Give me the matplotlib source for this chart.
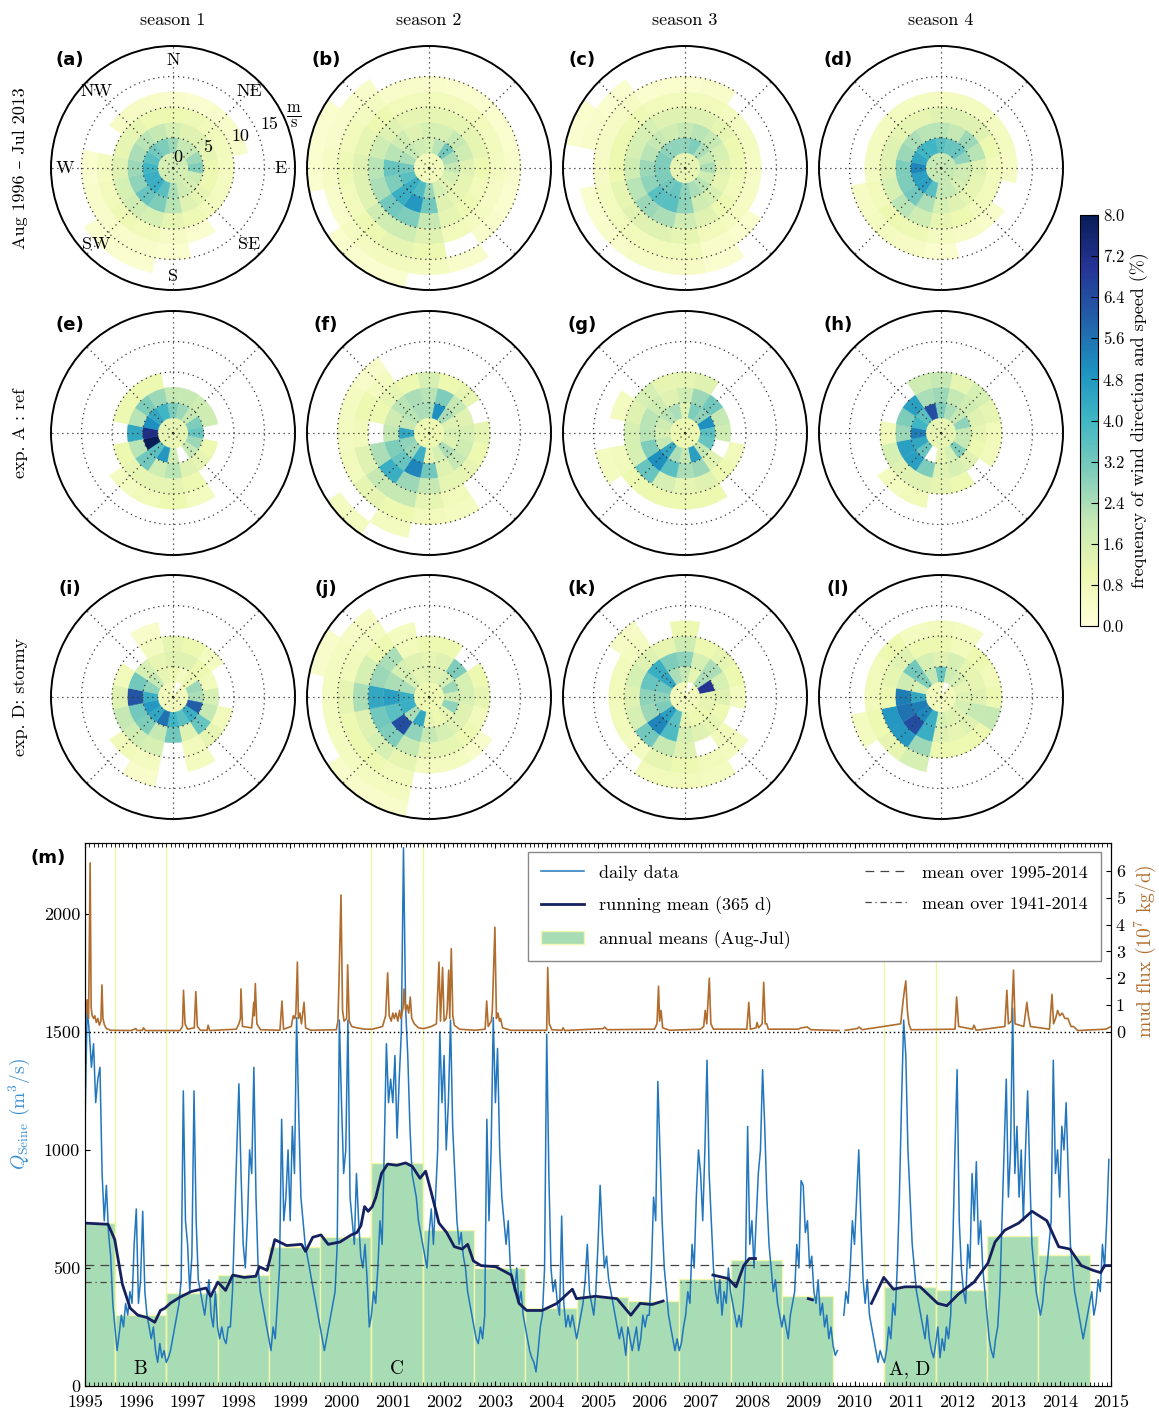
import numpy as np
import matplotlib
matplotlib.use('Agg')
import matplotlib.pyplot as plt
from matplotlib.lines import Line2D
from matplotlib.patches import Patch
from matplotlib.colors import Normalize
from matplotlib.cm import ScalarMappable
from matplotlib.ticker import MultipleLocator

plt.rcParams['font.family'] = ['cmr10', 'DejaVu Serif']
plt.rcParams['mathtext.fontset'] = 'cm'
plt.rcParams['axes.unicode_minus'] = False
plt.rcParams['font.size'] = 13

# ---------------- wind roses: frequency (%) per direction (N, NNE, ... NNW) and speed bin (2.5 m/s) ----
SPEED_EDGES = [0, 2.5, 5, 7.5, 10, 12.5, 15, 17.5, 20]
DIRECTIONS = [0, 22.5, 45, 67.5, 90, 112.5, 135, 157.5, 180, 202.5, 225, 247.5, 270, 292.5, 315, 337.5]

ROSE_A = [[1.8, 2.6, 1.6, 1.0, 0.4, 0, 0, 0], [1.8, 2.0, 1.4, 0.9, 0.3, 0, 0, 0],
          [1.8, 2.0, 1.4, 0.8, 0.4, 0, 0, 0], [1.8, 2.6, 1.2, 0.7, 0.4, 0, 0, 0],
          [1.6, 3.0, 1.0, 0.6, 0, 0, 0, 0], [1.6, 1.8, 1.0, 0.6, 0, 0, 0, 0],
          [1.6, 1.6, 1.2, 0.7, 0, 0, 0, 0], [1.8, 1.8, 1.4, 0.9, 0.3, 0, 0, 0],
          [1.8, 2.4, 2.2, 1.2, 0.5, 0.3, 0, 0], [1.8, 3.6, 3.0, 1.6, 0.8, 0.4, 0.3, 0],
          [1.8, 4.2, 3.4, 1.8, 0.9, 0.4, 0.3, 0], [1.8, 4.2, 2.8, 1.6, 0.8, 0.4, 0, 0],
          [1.6, 4.0, 2.6, 1.4, 0.6, 0.3, 0, 0], [1.6, 3.6, 2.4, 1.2, 0, 0, 0, 0],
          [1.6, 3.2, 2.2, 1.2, 0.5, 0, 0, 0], [1.6, 3.0, 2.0, 1.0, 0.5, 0, 0, 0]]
ROSE_B = [[0.8, 1.6, 1.6, 1.2, 0.8, 0.4, 0, 0], [0.8, 2.2, 1.6, 1.2, 0.8, 0.3, 0, 0],
          [0.8, 3.2, 2.0, 1.2, 0.8, 0.3, 0, 0], [0.8, 2.4, 1.8, 1.2, 0.7, 0.3, 0, 0],
          [0.8, 2.0, 1.4, 1.0, 0.6, 0.4, 0, 0], [0.8, 1.6, 1.2, 0.8, 0.5, 0.3, 0, 0],
          [0.8, 1.4, 1.2, 1.0, 0.6, 0.4, 0, 0], [0.8, 1.6, 1.4, 1.2, 0.8, 0, 0.4, 0],
          [0.8, 2.6, 3.2, 2.0, 1.4, 1.0, 0.6, 0], [0.8, 3.8, 4.8, 3.0, 1.8, 1.2, 0.7, 0.3],
          [0.8, 4.2, 4.2, 3.2, 1.8, 1.0, 0.6, 0.3], [0.8, 3.6, 3.0, 2.4, 1.4, 0.8, 0.4, 0],
          [0.8, 3.2, 3.4, 2.2, 1.4, 0.9, 0.5, 0.3], [0.8, 2.4, 2.2, 1.8, 1.2, 0.8, 0.4, 0.3],
          [0.8, 2.0, 1.8, 1.4, 1.0, 0.6, 0.4, 0], [0.8, 1.8, 1.4, 1.2, 0.8, 0.4, 0, 0]]
ROSE_C = [[1.2, 2.8, 2.0, 1.4, 0.8, 0.3, 0, 0], [1.2, 3.0, 2.2, 1.4, 0.8, 0.4, 0, 0],
          [1.2, 2.4, 2.0, 1.2, 0.6, 0, 0, 0], [1.2, 2.0, 1.6, 1.0, 0.6, 0, 0, 0],
          [1.2, 2.4, 1.4, 0.9, 0.5, 0, 0, 0], [1.2, 1.8, 1.2, 0.8, 0.5, 0, 0, 0],
          [1.2, 2.2, 1.6, 1.0, 0.6, 0.3, 0, 0], [1.2, 2.4, 1.8, 1.4, 0.8, 0.4, 0.3, 0],
          [1.2, 2.8, 2.8, 1.8, 1.2, 0.8, 0.5, 0], [1.2, 3.4, 3.6, 2.4, 1.4, 0.8, 0.5, 0],
          [1.2, 3.2, 3.6, 2.6, 1.4, 0.8, 0.4, 0], [1.2, 3.0, 2.8, 2.2, 1.2, 0.6, 0.3, 0],
          [1.2, 3.0, 2.6, 1.8, 1.0, 0.5, 0, 0], [1.2, 3.0, 2.2, 1.6, 1.0, 0.5, 0.4, 0.3],
          [1.2, 2.8, 2.0, 1.6, 0.9, 0.5, 0.3, 0], [1.2, 2.8, 1.8, 1.4, 0.8, 0.3, 0, 0]]
ROSE_D = [[2.0, 3.6, 2.2, 1.4, 0.6, 0, 0, 0], [2.0, 3.4, 2.0, 1.4, 0.6, 0, 0, 0],
          [2.0, 3.4, 2.6, 1.4, 0.6, 0, 0, 0], [2.0, 2.8, 2.2, 1.0, 0.6, 0, 0, 0],
          [2.0, 1.8, 1.4, 0.8, 0.5, 0, 0, 0], [2.0, 1.8, 1.2, 0.8, 0, 0, 0, 0],
          [2.0, 1.6, 1.2, 0.8, 0.4, 0, 0, 0], [2.0, 2.0, 1.4, 1.0, 0.5, 0, 0, 0],
          [2.0, 2.0, 1.6, 1.2, 0.6, 0.3, 0, 0], [2.0, 3.6, 2.4, 1.8, 0.9, 0.5, 0, 0],
          [2.0, 4.6, 3.2, 2.2, 1.0, 0.6, 0, 0], [2.0, 4.6, 3.0, 1.6, 0.8, 0.5, 0, 0],
          [2.0, 5.2, 3.0, 1.4, 0.6, 0, 0, 0], [2.0, 4.4, 2.6, 1.4, 0.6, 0, 0, 0],
          [2.0, 4.0, 2.4, 1.2, 0.6, 0, 0, 0], [2.0, 4.0, 2.2, 1.2, 0.6, 0, 0, 0]]
ROSE_E = [[1.2, 3.0, 2.0, 0, 0, 0, 0, 0], [1.2, 2.6, 2.0, 0, 0, 0, 0, 0],
          [1.2, 2.0, 1.8, 0, 0, 0, 0, 0], [1.2, 3.0, 1.8, 0, 0, 0, 0, 0],
          [1.2, 3.4, 0, 0, 0, 0, 0, 0], [1.2, 2.6, 1.0, 0, 0, 0, 0, 0],
          [1.2, 2.0, 1.2, 0, 0, 0, 0, 0], [1.0, 0, 1.4, 1.0, 0.6, 0, 0, 0],
          [1.2, 1.8, 2.2, 1.2, 1.0, 0, 0, 0], [1.2, 4.8, 1.8, 1.2, 0.8, 0, 0, 0],
          [1.2, 3.6, 3.2, 1.2, 0.6, 0, 0, 0], [1.2, 8.0, 2.2, 1.0, 0, 0, 0, 0],
          [1.2, 7.2, 4.4, 0, 0, 0, 0, 0], [1.2, 5.0, 2.2, 1.0, 0, 0, 0, 0],
          [1.2, 4.4, 3.0, 1.0, 0, 0, 0, 0], [1.2, 4.0, 2.6, 1.0, 0, 0, 0, 0]]
ROSE_F = [[1.0, 2.4, 2.2, 1.6, 0, 0, 0, 0], [1.0, 5.0, 3.0, 1.0, 0, 0, 0, 0],
          [1.0, 2.4, 2.0, 1.2, 0, 0, 0, 0], [1.0, 1.4, 1.4, 0, 0, 0, 0, 0],
          [1.0, 1.6, 1.6, 1.2, 0, 0, 0, 0], [1.0, 1.4, 1.8, 1.0, 0, 0, 0, 0],
          [1.0, 2.4, 2.0, 1.2, 0, 0, 0, 0], [1.0, 1.6, 1.4, 1.2, 0.8, 0.6, 0, 0],
          [1.0, 1.2, 3.2, 2.0, 1.2, 0.8, 0, 0], [1.0, 4.2, 5.2, 2.6, 2.0, 1.0, 0.6, 0],
          [1.0, 2.6, 3.4, 4.2, 2.0, 1.2, 0, 0.6], [1.0, 2.8, 3.0, 2.4, 1.4, 0.8, 0, 0],
          [1.0, 4.4, 2.0, 0, 0.8, 0.6, 0, 0], [1.0, 2.0, 1.8, 1.0, 1.0, 0.6, 0, 0],
          [1.0, 2.2, 2.2, 1.2, 0.6, 0.4, 0, 0], [1.0, 2.4, 2.4, 1.0, 0, 0, 0, 0]]
ROSE_G = [[1.0, 1.4, 1.8, 1.2, 0, 0, 0, 0], [1.0, 3.0, 2.6, 1.4, 0, 0, 0, 0],
          [1.0, 2.8, 3.2, 0, 0, 0, 0, 0], [1.0, 5.0, 2.0, 0, 0, 0, 0, 0],
          [1.0, 3.6, 1.8, 0, 0, 0, 0, 0], [1.0, 3.4, 0, 0.8, 0, 0, 0, 0],
          [1.0, 2.0, 1.4, 1.0, 0, 0, 0, 0], [1.0, 4.6, 2.6, 1.4, 1.0, 0, 0, 0],
          [1.0, 2.0, 2.4, 1.2, 1.0, 0, 0, 0], [1.0, 2.4, 3.6, 1.6, 1.0, 0, 0, 0],
          [1.0, 4.4, 5.0, 3.4, 1.0, 0, 0, 0], [1.0, 2.0, 3.0, 1.6, 0.8, 0.6, 0, 0],
          [1.0, 1.6, 2.2, 1.6, 0, 0, 0, 0], [1.0, 1.8, 2.2, 1.4, 0.6, 0, 0, 0],
          [1.0, 2.2, 1.8, 1.6, 0, 0, 0, 0], [1.0, 2.4, 1.4, 1.2, 0, 0, 0, 0]]
ROSE_H = [[1.2, 3.0, 2.6, 2.0, 0, 0, 0, 0], [1.2, 2.4, 2.0, 1.2, 0, 0, 0, 0],
          [1.2, 2.0, 1.8, 1.6, 0, 0, 0, 0], [1.2, 2.8, 1.4, 1.2, 0, 0, 0, 0],
          [1.2, 2.0, 1.2, 0.8, 0, 0, 0, 0], [1.2, 2.0, 1.0, 0.8, 0, 0, 0, 0],
          [1.2, 3.0, 1.4, 0, 0, 0, 0, 0], [1.2, 1.6, 1.6, 1.0, 0, 0, 0, 0],
          [1.2, 1.2, 1.4, 1.2, 0, 0, 0, 0], [1.2, 0, 3.0, 1.4, 0.8, 0, 0, 0],
          [1.2, 3.4, 4.6, 1.4, 0.6, 0, 0, 0], [1.2, 4.4, 4.6, 1.6, 0, 0, 0, 0],
          [1.2, 5.4, 2.6, 0.8, 0, 0, 0, 0], [1.2, 4.0, 3.0, 0, 0, 0, 0, 0],
          [1.2, 3.6, 4.6, 0, 0, 0, 0, 0], [1.2, 6.4, 2.4, 1.8, 0, 0, 0, 0]]
ROSE_I = [[0.6, 1.0, 1.4, 1.2, 0, 0, 0, 0], [0, 0.6, 1.4, 1.0, 0, 0, 0, 0],
          [0.8, 1.0, 1.0, 0.6, 0, 0, 0, 0], [0.8, 2.6, 0.8, 0, 0, 0, 0, 0],
          [0.8, 2.4, 1.6, 0, 0, 0, 0, 0], [0.8, 6.0, 2.0, 0.8, 0, 0, 0, 0],
          [0.8, 4.2, 3.4, 1.2, 0, 0, 0, 0], [0.8, 3.6, 1.4, 0.8, 0.6, 0, 0, 0],
          [0.8, 4.0, 3.2, 0, 0, 0, 0, 0], [0.8, 5.6, 2.0, 1.6, 0.6, 0.4, 0, 0],
          [0.8, 4.4, 3.0, 1.8, 0.8, 0, 0, 0], [0.8, 4.8, 3.2, 2.0, 0, 0, 0, 0],
          [0.8, 4.2, 6.2, 1.4, 0, 0, 0, 0], [0.8, 2.8, 3.2, 0.8, 0, 0, 0, 0],
          [0.8, 2.0, 1.6, 0, 0, 0, 0, 0], [0.8, 1.2, 1.2, 0.6, 0.4, 0, 0, 0]]
ROSE_J = [[1.0, 1.4, 1.2, 1.0, 0, 0, 0, 0], [1.0, 1.4, 1.4, 1.0, 0, 0, 0, 0],
          [1.0, 1.6, 3.0, 0, 0, 0, 0, 0], [1.0, 2.6, 1.6, 1.0, 0, 0, 0, 0],
          [1.0, 1.8, 1.6, 1.2, 0, 0, 0, 0], [1.0, 2.8, 1.4, 0.8, 0, 0, 0, 0],
          [1.0, 1.2, 1.4, 1.0, 0.4, 0, 0, 0], [1.0, 1.0, 1.6, 1.2, 0.6, 0, 0, 0],
          [1.0, 1.2, 2.0, 1.2, 0.6, 0, 0, 0], [1.0, 4.4, 2.8, 2.0, 1.2, 0.8, 0.6, 0.4],
          [1.0, 2.4, 6.4, 3.0, 1.6, 1.0, 0.6, 0.4], [1.0, 4.2, 3.6, 3.2, 1.4, 1.0, 0.6, 0],
          [1.0, 4.2, 4.6, 4.4, 2.4, 1.2, 0.6, 0], [1.0, 2.4, 2.4, 2.6, 1.6, 0.8, 0.6, 0.4],
          [1.0, 1.6, 1.6, 2.4, 1.0, 0.6, 0.5, 0], [1.0, 1.2, 1.4, 0.8, 0.6, 0, 0, 0]]
ROSE_K = [[0.8, 2.0, 2.8, 1.8, 1.0, 0, 0, 0], [0, 1.2, 1.6, 1.0, 0, 0, 0, 0],
          [0.8, 2.4, 2.4, 1.2, 0, 0, 0, 0], [0.8, 7.0, 1.6, 1.0, 0, 0, 0, 0],
          [0.8, 1.2, 1.4, 0.6, 0, 0, 0, 0], [0.8, 1.2, 1.0, 0, 0, 0, 0, 0],
          [0.8, 1.0, 1.2, 0.8, 0.6, 0, 0, 0], [0.8, 1.0, 1.4, 0, 0.8, 0.6, 0, 0],
          [0.8, 1.2, 1.6, 1.4, 1.0, 0.8, 0, 0], [0.8, 3.6, 3.8, 2.0, 1.2, 0.8, 0, 0],
          [0.8, 4.6, 5.2, 3.2, 0.6, 0, 0, 0], [0.8, 3.0, 2.6, 1.6, 0.8, 0, 0, 0],
          [0.8, 2.8, 2.8, 1.4, 0.8, 0, 0, 0], [0.8, 3.2, 3.4, 1.6, 0.8, 0, 0, 0],
          [0.8, 4.4, 4.2, 1.4, 0.6, 0.5, 0, 0], [0.8, 2.4, 3.0, 1.2, 0, 0, 0, 0]]
ROSE_L = [[0.8, 3.4, 1.4, 1.0, 0.8, 0, 0, 0], [0, 1.8, 1.6, 0.8, 0.6, 0, 0, 0],
          [0.8, 1.6, 1.2, 1.0, 0, 0, 0, 0], [0.8, 1.2, 1.2, 0.8, 0, 0, 0, 0],
          [0.8, 1.4, 1.4, 1.0, 0, 0, 0, 0], [0.8, 1.6, 2.0, 2.0, 0, 0, 0, 0],
          [0.8, 1.4, 1.4, 1.0, 0, 0, 0, 0], [0.8, 1.4, 1.2, 1.0, 0, 0, 0, 0],
          [0.8, 1.6, 1.4, 1.0, 0, 0, 0, 0], [0.8, 4.2, 4.2, 2.6, 1.6, 0, 0, 0],
          [0.8, 5.2, 6.4, 4.8, 1.2, 0, 0, 0], [0.8, 5.4, 5.6, 4.8, 1.0, 0.6, 0, 0],
          [0.8, 4.4, 5.4, 1.0, 0.8, 0, 0, 0], [0.8, 1.6, 1.8, 1.2, 0.8, 0, 0, 0],
          [0.8, 3.0, 3.2, 1.4, 1.0, 0, 0, 0], [0.8, 2.0, 1.6, 1.0, 0.6, 0, 0, 0]]

ROSES = [[ROSE_A, ROSE_B, ROSE_C, ROSE_D],
         [ROSE_E, ROSE_F, ROSE_G, ROSE_H],
         [ROSE_I, ROSE_J, ROSE_K, ROSE_L]]
LETTERS = [['(a)', '(b)', '(c)', '(d)'], ['(e)', '(f)', '(g)', '(h)'], ['(i)', '(j)', '(k)', '(l)']]
SEASONS = ['season 1', 'season 2', 'season 3', 'season 4']
ROW_LABELS = ['Aug 1996 \u2013 Jul 2013', 'exp. A : ref', 'exp. D: stormy']
COMPASS = ['N', 'NE', 'E', 'SE', 'S', 'SW', 'W', 'NW']
CBAR_TICKS = [0.0, 0.8, 1.6, 2.4, 3.2, 4.0, 4.8, 5.6, 6.4, 7.2, 8.0]

# ---------------- Seine discharge, semi-monthly readings (1st and 15th of each month), m3/s ------------
Q_1995 = [1100, 1600, 1500, 1350, 1450, 1200, 1300, 1350, 900, 700, 850, 650, 550, 350, 250, 150, 220, 300, 250, 350, 300, 400, 350, 600]
Q_1996 = [750, 350, 450, 740, 400, 300, 250, 200, 250, 150, 100, 180, 120, 150, 100, 120, 150, 200, 250, 300, 350, 450, 1250, 700]
Q_1997 = [600, 400, 550, 1250, 700, 450, 400, 350, 300, 380, 450, 300, 250, 400, 250, 200, 250, 200, 180, 250, 250, 400, 700, 1000]
Q_1998 = [1280, 900, 600, 500, 700, 1000, 900, 1350, 800, 500, 400, 350, 300, 250, 200, 150, 250, 200, 350, 500, 1130, 700, 800, 1000]
Q_1999 = [700, 1100, 900, 1560, 1150, 800, 700, 600, 550, 500, 450, 400, 350, 300, 250, 200, 150, 200, 250, 300, 350, 400, 600, 1550]
Q_2000 = [1200, 900, 1000, 1550, 800, 700, 600, 900, 700, 550, 500, 600, 450, 250, 300, 400, 350, 500, 700, 600, 1000, 1450, 1200, 1300]
Q_2001 = [1200, 1400, 1050, 1300, 1500, 2280, 1600, 1400, 1100, 900, 850, 800, 700, 650, 600, 550, 500, 650, 750, 600, 800, 1000, 1500, 1200]
Q_2002 = [1400, 1000, 1200, 1550, 1100, 900, 700, 600, 650, 550, 500, 400, 350, 300, 250, 200, 180, 250, 200, 300, 1130, 700, 1000, 1560]
Q_2003 = [1200, 1430, 1000, 800, 700, 600, 700, 500, 450, 400, 500, 350, 400, 300, 250, 200, 150, 120, 100, 60, 150, 250, 300, 500]
Q_2004 = [1490, 900, 500, 400, 450, 350, 300, 720, 350, 250, 300, 250, 300, 250, 200, 250, 300, 350, 450, 600, 400, 350, 300, 400]
Q_2005 = [600, 850, 650, 500, 550, 450, 400, 350, 300, 250, 200, 250, 200, 130, 250, 200, 150, 200, 250, 150, 200, 300, 250, 300]
Q_2006 = [300, 500, 800, 700, 1290, 1000, 700, 500, 400, 300, 250, 200, 150, 200, 150, 180, 250, 300, 400, 350, 600, 500, 800, 1000]
Q_2007 = [900, 700, 1000, 1380, 900, 700, 500, 400, 350, 450, 300, 400, 350, 500, 400, 350, 300, 250, 300, 250, 350, 500, 1100, 600]
Q_2008 = [700, 500, 700, 900, 1000, 1340, 1100, 800, 600, 500, 400, 450, 350, 300, 250, 300, 250, 200, 300, 350, 400, 600, 500, 870]
Q_2009 = [850, 650, 700, 500, 550, 400, 350, 450, 300, 350, 250, 300, 200, 250, 170, 130, 150, np.nan, np.nan, 300, 400, 350, 500, 700]
Q_2010 = [600, 800, 1000, 700, 450, 350, 450, 300, 250, 200, 150, 100, 150, 120, 100, 150, 250, 200, 350, 300, 500, 800, 1200, 1550]
Q_2011 = [1400, 1000, 800, 600, 500, 400, 350, 300, 250, 200, 300, 200, 150, 120, 180, 250, 120, 200, 150, 250, 200, 300, 600, 1000]
Q_2012 = [1340, 700, 500, 400, 350, 600, 500, 900, 700, 950, 600, 700, 500, 400, 300, 200, 150, 120, 200, 250, 400, 700, 1000, 1300]
Q_2013 = [800, 1000, 1600, 900, 1100, 800, 1000, 700, 1000, 1250, 900, 600, 500, 400, 350, 300, 350, 450, 500, 600, 700, 1380, 900, 1000]
Q_2014 = [800, 1100, 1000, 1200, 900, 600, 500, 400, 350, 300, 250, 200, 250, 300, 350, 400, 300, 350, 450, 400, 600, 500, 700, 960]
Q_YEARS = [Q_1995, Q_1996, Q_1997, Q_1998, Q_1999, Q_2000, Q_2001, Q_2002, Q_2003, Q_2004,
           Q_2005, Q_2006, Q_2007, Q_2008, Q_2009, Q_2010, Q_2011, Q_2012, Q_2013, Q_2014]

# running mean (365 d), read at turning points; nan = gap
RM_T = [1995.0, 1995.45, 1995.58, 1995.73, 1995.88, 1996.03, 1996.21, 1996.36, 1996.47, 1996.56, 1996.66,
        1996.84, 1997.07, 1997.36, 1997.45, 1997.59, 1997.74, 1997.88, 1998.1, 1998.33, 1998.4, 1998.55,
        1998.7, 1998.93, 1999.22, 1999.3, 1999.44, 1999.6, 1999.74, 1999.97, 2000.19, 2000.3, 2000.38,
        2000.45, 2000.52, 2000.6, 2000.67, 2000.78, 2000.9, 2001.08, 2001.25, 2001.38, 2001.53, 2001.64,
        2001.75, 2001.9, 2002.05, 2002.2, 2002.35, 2002.46, 2002.57, 2002.72, 2003.01, 2003.31, 2003.46,
        2003.61, 2003.91, 2004.2, 2004.5, 2004.58, 2004.95, 2005.37, 2005.64, 2005.82, 2006.05, 2006.27,
        2006.7, 2007.24, 2007.54, 2007.69, 2007.84, 2007.95, 2008.07, 2008.5, 2009.1, 2009.18, 2009.7,
        2010.33, 2010.57, 2010.76, 2010.98, 2011.28, 2011.62, 2011.8, 2012.03, 2012.33, 2012.6, 2012.74,
        2012.93, 2013.2, 2013.46, 2013.75, 2013.98, 2014.2, 2014.42, 2014.65, 2014.8, 2014.87, 2015.0]
RM_V = [690, 685, 620, 430, 330, 300, 290, 270, 320, 330, 350,
        375, 400, 415, 380, 440, 405, 470, 460, 465, 505, 490,
        620, 595, 600, 570, 630, 640, 600, 610, 640, 650, 680,
        760, 740, 760, 800, 900, 940, 935, 945, 930, 880, 910,
        820, 690, 650, 590, 580, 600, 530, 510, 505, 470, 350,
        320, 320, 350, 410, 370, 380, 370, 300, 350, 345, 360,
        np.nan, 470, 455, 420, 510, 540, 540, np.nan, 370, 365, np.nan,
        350, 460, 410, 420, 420, 350, 340, 390, 440, 520, 610,
        660, 690, 740, 700, 590, 580, 510, 490, 480, 510, 510]

# annual means Aug-Jul (year of August), no value for 2009-2010
ANNUAL_YEARS = [1994, 1995, 1996, 1997, 1998, 1999, 2000, 2001, 2002, 2003, 2004, 2005, 2006, 2007, 2008,
                2010, 2011, 2012, 2013]
ANNUAL_MEANS = [690, 300, 395, 470, 590, 630, 945, 660, 500, 330, 375, 362, 455, 535, 380,
                420, 405, 635, 555]
MEAN_1995_2014 = 512
MEAN_1941_2014 = 442
SEASON_BOUNDS = [1995.58, 1996.58, 2000.58, 2001.58]
SEASON_BOUNDS_AD = [2010.58, 2011.58]
EVENT_LABELS = [(1996.08, 'B'), (2001.08, 'C'), (2011.08, 'A, D')]

# mud flux (1e7 kg/d)
MUD_T = [1995.0, 1995.02, 1995.04, 1995.07, 1995.1, 1995.12, 1995.14, 1995.17, 1995.19, 1995.22, 1995.25,
         1995.28, 1995.31, 1995.33, 1995.35, 1995.38, 1995.42, 1995.5, 1995.9, 1995.99, 1996.02, 1996.12,
         1996.14, 1996.18, 1996.85, 1996.9, 1996.92, 1996.95, 1997.0, 1997.13, 1997.16, 1997.19, 1997.25,
         1997.38, 1997.4, 1997.43, 1997.95, 1998.0, 1998.03, 1998.04, 1998.07, 1998.25, 1998.29, 1998.3,
         1998.32, 1998.35, 1998.42, 1998.8, 1998.84, 1998.87, 1999.02, 1999.06, 1999.09, 1999.11, 1999.14,
         1999.16, 1999.19, 1999.22, 1999.27, 1999.3, 1999.4, 1999.9, 1999.93, 1999.95, 1999.99, 2000.02,
         2000.05, 2000.1, 2000.12, 2000.15, 2000.2, 2000.3, 2000.45, 2000.6, 2000.8, 2000.86, 2000.9,
         2000.93, 2000.97, 2001.0, 2001.03, 2001.06, 2001.1, 2001.13, 2001.16, 2001.2, 2001.22, 2001.25,
         2001.28, 2001.31, 2001.34, 2001.37, 2001.42, 2001.5, 2001.6, 2001.75, 2001.85, 2001.9, 2001.93,
         2001.97, 2002.0, 2002.04, 2002.06, 2002.09, 2002.11, 2002.14, 2002.17, 2002.2, 2002.3, 2002.6,
         2002.8, 2002.83, 2002.86, 2002.92, 2002.94, 2002.99, 2003.02, 2003.05, 2003.08, 2003.1, 2003.14,
         2003.3, 2004.0, 2004.02, 2004.05, 2004.1, 2004.3, 2004.32, 2004.35, 2004.9, 2005.1, 2005.13,
         2005.18, 2006.1, 2006.15, 2006.18, 2006.2, 2006.23, 2006.26, 2006.4, 2007.0, 2007.06, 2007.09,
         2007.12, 2007.17, 2007.2, 2007.25, 2007.9, 2007.94, 2007.97, 2008.08, 2008.1, 2008.13, 2008.2,
         2008.23, 2008.26, 2008.29, 2008.32, 2008.9, 2008.96, 2009.08, 2009.15, 2009.7, 2009.71, 2009.82,
         2010.05, 2010.09, 2010.15, 2010.9, 2010.95, 2010.97, 2011.0, 2011.03, 2011.06, 2011.1, 2011.96,
         2011.99, 2012.03, 2012.3, 2012.33, 2012.37, 2012.93, 2012.97, 2013.0, 2013.06, 2013.1, 2013.13,
         2013.3, 2013.36, 2013.39, 2013.43, 2013.8, 2013.85, 2013.88, 2013.92, 2013.96, 2014.0, 2014.05,
         2014.1, 2014.16, 2014.22, 2014.27, 2014.35, 2014.9, 2014.95, 2015.0]
MUD_V = [0.5, 0.7, 1.2, 0.5, 6.3, 0.9, 0.6, 0.5, 0.6, 0.35, 0.5,
         0.25, 0.4, 1.75, 0.5, 0.25, 0.12, 0.06, 0.05, 0.12, 0.05, 0.06,
         0.15, 0.05, 0.05, 0.2, 1.55, 0.3, 0.1, 0.15, 1.5, 0.2, 0.06,
         0.06, 0.25, 0.05, 0.1, 0.3, 0.5, 1.6, 0.2, 0.15, 1.1, 0.6,
         1.8, 0.3, 0.08, 0.06, 1.15, 0.1, 0.2, 0.6, 0.5, 0.7, 2.6,
         0.5, 0.7, 0.3, 1.1, 0.15, 0.06, 0.08, 0.4, 1.8, 5.1, 0.8,
         0.4, 0.5, 2.5, 0.4, 0.2, 0.15, 0.1, 0.1, 0.2, 0.6, 2.2,
         0.6, 0.4, 0.7, 0.5, 0.7, 0.4, 0.8, 0.5, 0.9, 1.6, 0.8,
         1.0, 0.7, 1.3, 0.5, 0.3, 0.15, 0.12, 0.2, 0.3, 2.6, 0.4,
         2.4, 0.4, 0.5, 0.8, 2.3, 0.5, 3.1, 0.6, 0.25, 0.1, 0.06,
         0.1, 1.15, 0.2, 0.4, 0.8, 3.9, 0.5, 0.7, 0.4, 0.5, 0.15,
         0.06, 0.06, 2.4, 0.3, 0.08, 0.06, 0.15, 0.05, 0.1, 0.12, 0.18,
         0.08, 0.1, 0.3, 1.7, 0.4, 0.8, 0.15, 0.06, 0.1, 0.2, 0.8,
         0.3, 2.0, 0.3, 0.1, 0.1, 1.1, 0.1, 0.15, 0.35, 0.15, 0.3,
         1.85, 0.3, 0.3, 0.1, 0.1, 0.15, 0.18, 0.08, 0.05, np.nan, 0.06,
         0.12, 0.18, 0.08, 0.3, 1.2, 1.5, 1.9, 0.8, 0.3, 0.08, 0.1,
         1.3, 0.2, 0.1, 0.25, 0.06, 0.2, 1.55, 0.3, 0.4, 2.3, 0.3,
         0.2, 1.1, 0.6, 0.2, 0.1, 1.4, 0.3, 0.5, 0.8, 0.6, 0.7,
         0.5, 0.5, 0.2, 0.2, 0.05, 0.1, 0.15, 0.2]

W, H = 1159, 1410
CX = [173, 429, 685, 941]
CY = [168, 433, 697]
RAD = 122

cmap = plt.get_cmap('YlGnBu')
norm = Normalize(vmin=0, vmax=8)

fig = plt.figure(figsize=(W / 100, H / 100), dpi=100)

theta_c = np.deg2rad(DIRECTIONS)
width = np.deg2rad(22.5)
for i in range(3):
    for j in range(4):
        rect = [(CX[j] - RAD) / W, (H - CY[i] - RAD) / H, 2 * RAD / W, 2 * RAD / H]
        ax = fig.add_axes(rect, projection='polar')
        ax.set_theta_zero_location('N')
        ax.set_theta_direction(-1)
        data = np.array(ROSES[i][j])
        for k in range(8):
            vals = data[:, k]
            ok = vals > 0
            cols = cmap(norm(vals[ok]))
            ax.bar(theta_c[ok], SPEED_EDGES[k + 1] - SPEED_EDGES[k], width=width,
                   bottom=SPEED_EDGES[k], color=cols, edgecolor=cols, linewidth=0.3, zorder=1)
        ax.set_ylim(0, 20)
        ax.set_rgrids([5, 10, 15], labels=['', '', ''])
        ax.set_thetagrids(range(0, 360, 45), labels=[''] * 8)
        ax.grid(True, color='#333333', linestyle=(0, (1, 3)), linewidth=0.9)
        ax.spines['polar'].set_linewidth(1.4)
        ax.set_axisbelow(False)
        fig.text(CX[j] - 103, H - (CY[i] - 108), LETTERS[i][j], transform=None,
                 fontsize=13, fontweight='bold', family='DejaVu Sans', ha='center', va='center')
        if i == 0 and j == 0:
            for n, lab in enumerate(COMPASS):
                ax.text(np.deg2rad(45 * n), 17.7, lab, ha='center', va='center', fontsize=13)
            ax.text(np.deg2rad(27), 1.9, '0', ha='center', va='center', fontsize=13)
            ax.text(np.deg2rad(59), 6.7, '5', ha='center', va='center', fontsize=13)
            ax.text(np.deg2rad(64.8), 12.3, '10', ha='center', va='center', fontsize=13)
            ax.text(np.deg2rad(65.4), 17.3, '15', ha='center', va='center', fontsize=13)
            ax.text(np.deg2rad(66.7), 21.6, r'$\frac{\mathrm{m}}{\mathrm{s}}$', ha='center',
                    va='center', fontsize=17, clip_on=False)

for j, s in enumerate(SEASONS):
    fig.text(CX[j], H - 20, s, transform=None, ha='center', va='center', fontsize=13)
for i, s in enumerate(ROW_LABELS):
    fig.text(20, H - CY[i], s, transform=None, ha='center', va='center', rotation=90, fontsize=13)

cax = fig.add_axes([1080 / W, (H - 626) / H, 18 / W, 411 / H])
cb = fig.colorbar(ScalarMappable(norm=norm, cmap=cmap), cax=cax, ticks=CBAR_TICKS)
cb.ax.set_yticklabels(['%.1f' % t for t in CBAR_TICKS])
cb.ax.tick_params(labelsize=12, direction='in', length=5)
cb.set_label('frequency of wind direction and speed (%)', fontsize=13, labelpad=4)

# ---------------- time series panel ----------------
ax = fig.add_axes([85 / W, (H - 1386) / H, 1026 / W, 543 / H])
q = np.concatenate([np.array(y, dtype=float) for y in Q_YEARS])
q_t = 1995 + np.arange(len(q)) / 24.0

green = '#a8dcb4'
ax.bar(np.array(ANNUAL_YEARS) + 7 / 12, ANNUAL_MEANS, width=1.0, align='edge',
       color=green, edgecolor='#f2f7b0', linewidth=1.0, zorder=1)
for x in SEASON_BOUNDS:
    ax.axvline(x, color='#eef6a8', lw=1.0, zorder=1.5)
for x in SEASON_BOUNDS_AD:
    ax.axvline(x, ymax=0.87, color='#eef6a8', lw=1.0, zorder=1.5)
ax.axhline(MEAN_1995_2014, color='#444444', lw=0.9, ls=(0, (7, 5)), zorder=2.5)
ax.axhline(MEAN_1941_2014, color='#444444', lw=0.9, ls=(0, (5, 3, 1, 3)), zorder=2.5)
ax.plot(q_t, q, color='#2176bd', lw=1.1, zorder=2)
ax.plot(RM_T, RM_V, color='#14215e', lw=2.0, zorder=3)
for x, lab in EVENT_LABELS:
    ax.text(x, 70, lab, ha='center', va='center', fontsize=14, zorder=4)

ax.set_xlim(1995, 2015)
ax.set_ylim(0, 2300)
ax.set_xticks(range(1995, 2016))
ax.xaxis.set_minor_locator(MultipleLocator(1 / 12))
ax.set_yticks([0, 500, 1000, 1500, 2000])
ax.tick_params(axis='both', which='both', direction='in', labelsize=13)
ax.tick_params(axis='x', which='both', top=True, pad=6)
ax.tick_params(axis='x', which='minor', length=3)
ax.set_ylabel(r'$Q_\mathrm{Seine}$ (m$^3$/s)', color='#3a8fd3', fontsize=14)
ax.yaxis.set_label_coords(-0.052, 0.5)

ax2 = ax.twinx()
ax2.plot(MUD_T, MUD_V, color='#b06d2e', lw=1.2, zorder=2)
ax2.axhline(0, color='k', ls=(0, (1, 2)), lw=1.0)
ax2.set_ylim(-13.2, 7.04)
ax2.set_yticks([0, 1, 2, 3, 4, 5, 6])
ax2.tick_params(direction='in', labelsize=13)
ax2.set_ylabel(r'mud flux (10$^7$ kg/d)', color='#b06d2e', fontsize=14)
ax2.yaxis.set_label_coords(1.021, 0.80)

handles = [Line2D([], [], color='#2176bd', lw=1.1),
           Line2D([], [], color='#14215e', lw=2.0),
           Patch(facecolor=green, edgecolor='#f2f7b0'),
           Line2D([], [], color='#444444', lw=0.9, ls=(0, (7, 5))),
           Line2D([], [], color='#444444', lw=0.9, ls=(0, (5, 3, 1, 3)))]
labels = ['daily data', 'running mean (365 d)', 'annual means (Aug-Jul)',
          'mean over 1995-2014', 'mean over 1941-2014']
leg = ax2.legend(handles, labels, ncol=2, loc='upper right', bbox_to_anchor=(0.99, 0.983),
                 borderaxespad=0, fancybox=False, framealpha=1, edgecolor='#888888',
                 fontsize=13, columnspacing=4.1, handlelength=2.4, labelspacing=0.85,
                 borderpad=0.7)
leg.set_zorder(10)

fig.text(48, H - 858, '(m)', transform=None, fontsize=13, fontweight='bold',
         family='DejaVu Sans', ha='center', va='center')

fig.savefig('out.png', dpi=100)
